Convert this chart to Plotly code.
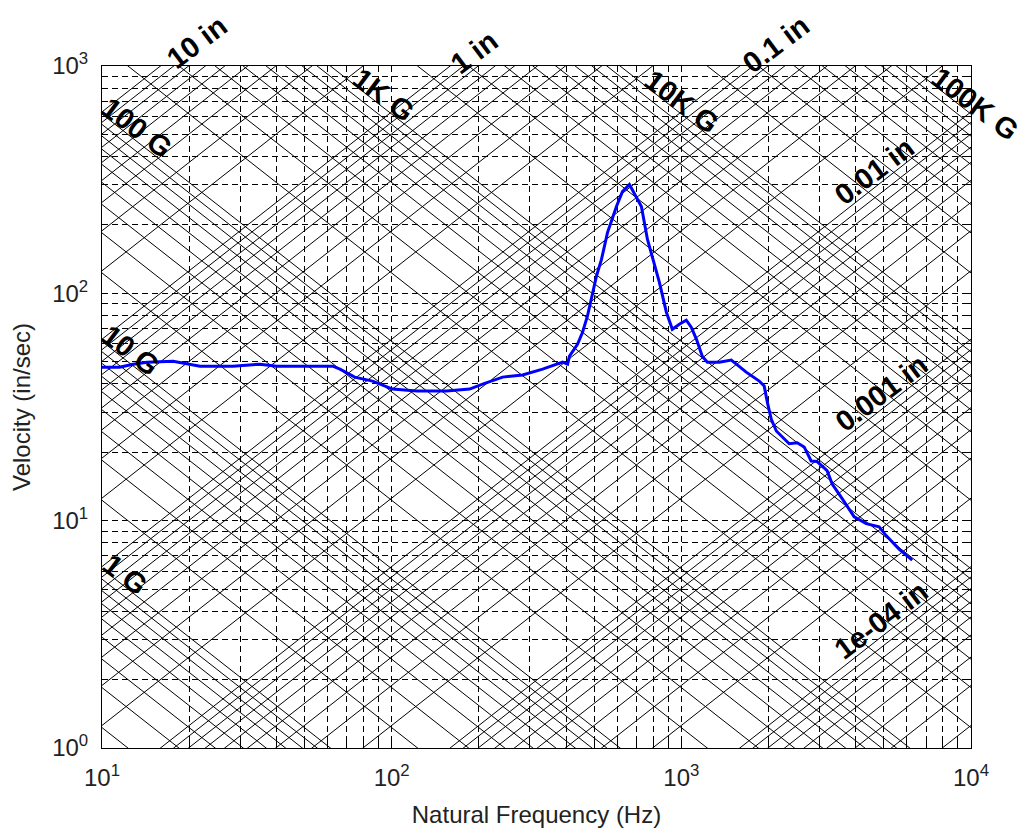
import numpy as np
import plotly.graph_objects as go

# ---------------- data ----------------
freq_hz = [10, 11.5, 12.8, 14.3, 17.6, 19.0, 21.8, 28.3, 35.1, 40.1, 62.6, 66.3, 71.6,
           74.5, 85.9, 100.7, 121.9, 154.8, 185.8, 206, 241.5, 283, 332, 371, 389, 405,
           411, 438, 456, 474, 493, 509, 530, 556, 597, 626, 662, 728, 764, 840, 888,
           931, 984, 1040, 1082, 1127, 1181, 1230, 1352, 1487, 1549, 1675, 1858, 1932,
           1980, 2043, 2128, 2357, 2512, 2655, 2807, 2942, 3186, 3318, 3591, 3951,
           4347, 4819, 5093, 5646, 6266]
velocity_ips = [47.3, 47.3, 48.8, 49.8, 50.3, 49.3, 47.8, 47.8, 48.8, 47.8, 47.8, 46.4, 44.1,
                42.8, 41.1, 37.9, 37.2, 37.2, 37.9, 39.9, 42.8, 43.7, 46.4, 48.8, 49.8, 48.8,
                52.9, 59.7, 67.4, 79.3, 101, 118.8, 141, 185, 241, 280, 301, 241, 172.6,
                111.7, 82.6, 69.5, 73.1, 76.2, 71.0, 62.9, 52.9, 49.8, 49.8, 50.9, 48.8,
                45.0, 41.1, 39.1, 33.3, 28.0, 24.8, 21.8, 22.0, 21.1, 18.3, 18.2, 16.6,
                14.5, 12.5, 10.4, 9.7, 9.4, 8.6, 7.5, 6.7]

# tripartite grid values
grid_multipliers = [1, 2, 3, 4, 5, 6, 7, 8, 9]
accel_decades_g = [0.1, 1, 10, 100, 1000, 10000, 100000]
disp_decades_in = [1e-5, 1e-4, 1e-3, 1e-2, 1e-1, 1, 10]

# diagonal labels
accel_label_text = ["1 G", "10 G", "100 G", "1K G", "10K G", "100K G"]
accel_label_g = [1, 10, 100, 1000, 1e4, 1e5]
accel_label_freq = [12.1, 12.5, 13.2, 93.8, 1007, 10328]
disp_label_text = ["10 in", "1 in", "0.1 in", "0.01 in", "0.001 in", "1e-04 in"]
disp_label_in = [10, 1, 0.1, 0.01, 0.001, 1e-4]
disp_label_freq = [21.3, 193, 2128, 4634, 4898, 4898]
disp_label_shift = [-5, -5, -7, 17, 17, 17]

x_decades = [1, 2, 3, 4]
y_decades = [0, 1, 2, 3]

G_IN = 386.09  # in/s^2 per G
F_LIM = [10, 1e4]
X_LOG = [1, 4]
Y_LOG = [0, 3]

FONT = "Liberation Sans, Arial, Helvetica, sans-serif"

fig = go.Figure()

# constant acceleration lines: V = A*g/(2*pi*f)
ax, ay = [], []
for d in accel_decades_g:
    for m in grid_multipliers:
        a = m * d
        for f in F_LIM:
            ax.append(f)
            ay.append(a * G_IN / (2 * np.pi * f))
        ax.append(None)
        ay.append(None)
fig.add_trace(go.Scatter(x=ax, y=ay, mode="lines", line=dict(color="black", width=1),
                         hoverinfo="skip", showlegend=False))

# constant displacement lines: V = 2*pi*f*D
dx, dy = [], []
for d in disp_decades_in:
    for m in grid_multipliers:
        dd = m * d
        for f in F_LIM:
            dx.append(f)
            dy.append(2 * np.pi * f * dd)
        dx.append(None)
        dy.append(None)
fig.add_trace(go.Scatter(x=dx, y=dy, mode="lines", line=dict(color="black", width=1),
                         hoverinfo="skip", showlegend=False))

# spectrum
fig.add_trace(go.Scatter(x=freq_hz, y=velocity_ips, mode="lines",
                         line=dict(color="#0000ff", width=3), showlegend=False))


def to_paper(f, v):
    px = (np.log10(f) - X_LOG[0]) / (X_LOG[1] - X_LOG[0])
    py = (np.log10(v) - Y_LOG[0]) / (Y_LOG[1] - Y_LOG[0])
    return px, py


label_font = dict(family=FONT, size=29, color="black", weight="bold")
for t, a, f in zip(accel_label_text, accel_label_g, accel_label_freq):
    px, py = to_paper(f, a * G_IN / (2 * np.pi * f))
    fig.add_annotation(x=px, y=py, xref="paper", yref="paper", text=t, showarrow=False,
                       xanchor="center", yanchor="middle",
                       textangle=37, yshift=13, font=label_font)
for t, dd, f, s in zip(disp_label_text, disp_label_in, disp_label_freq, disp_label_shift):
    px, py = to_paper(f, 2 * np.pi * f * dd)
    fig.add_annotation(x=px, y=py, xref="paper", yref="paper", text=t, showarrow=False,
                       xanchor="center", yanchor="middle",
                       textangle=-37, yshift=s, font=label_font)


def log_ticks(decades):
    vals, text = [], []
    for k in decades:
        for m in grid_multipliers:
            if k == decades[-1] and m > 1:
                break
            vals.append(m * 10 ** k)
            text.append(f"10<sup>{k}</sup>" if m == 1 else "")
    return vals, text


xv, xt = log_ticks(x_decades)
yv, yt = log_ticks(y_decades)

axis_common = dict(
    showline=True, linecolor="black", linewidth=1, mirror="ticks",
    ticks="inside", ticklen=6, tickcolor="black",
    showgrid=True, gridcolor="black", gridwidth=1, griddash="6px,4px",
    zeroline=False, tickfont=dict(family=FONT, size=24, color="#222"),
    ticklabelstandoff=8,
)

fig.update_xaxes(type="log", range=X_LOG, tickmode="array", tickvals=xv, ticktext=xt,
                 title=dict(text="Natural Frequency (Hz)", standoff=16,
                            font=dict(family=FONT, size=24, color="#222")),
                 **axis_common)
fig.update_yaxes(type="log", range=Y_LOG, tickmode="array", tickvals=yv, ticktext=yt,
                 title=dict(text="Velocity (in/sec)", standoff=14,
                            font=dict(family=FONT, size=24, color="#222")),
                 **axis_common)

fig.update_layout(
    width=1029, height=836,
    margin=dict(l=102, r=58, t=66, b=86),
    paper_bgcolor="white", plot_bgcolor="white",
    showlegend=False,
)

fig.write_html("out.html")
